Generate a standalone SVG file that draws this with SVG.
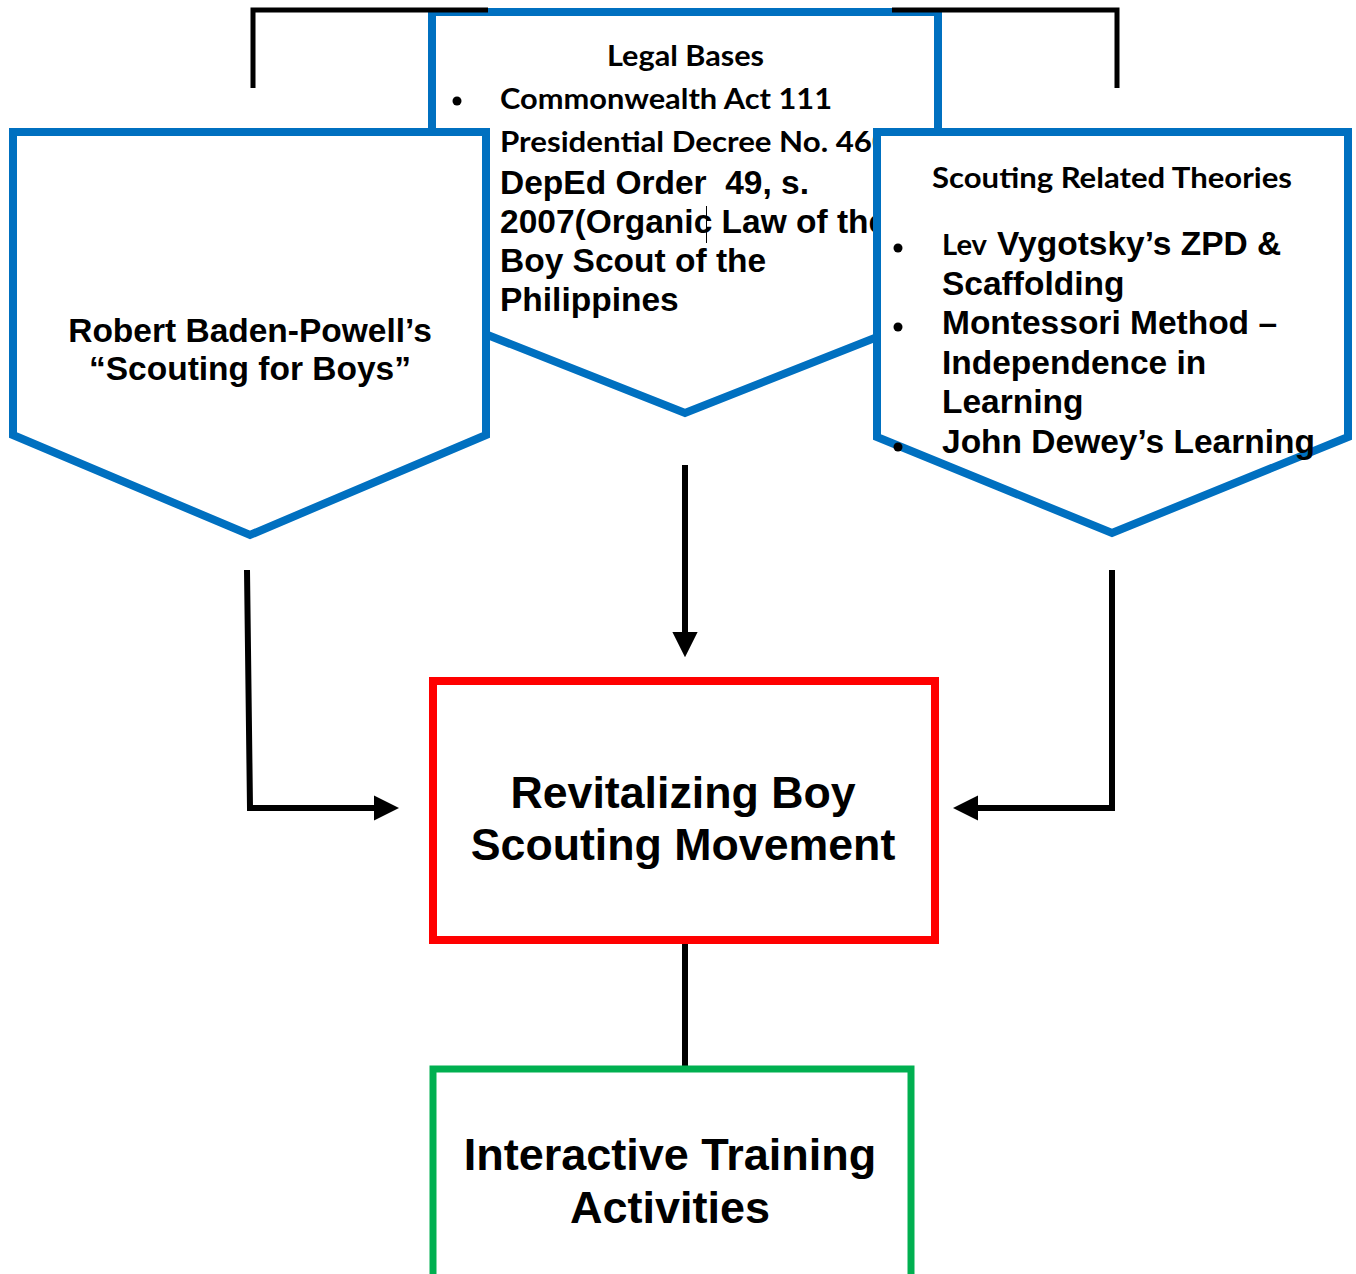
<svg xmlns="http://www.w3.org/2000/svg" width="1356" height="1274" viewBox="0 0 1356 1274">
<style>
.pent{fill:#fff;stroke:#0070C0;stroke-width:8;stroke-linejoin:miter}
.cal{font-family:Lato,"Open Sans",sans-serif;font-weight:bold;font-size:29px;fill:#000}
.ar{font-family:"Liberation Sans",Arial,sans-serif;font-weight:bold;fill:#000}
.conn{fill:none;stroke:#000;stroke-width:6}
.brk{fill:none;stroke:#000;stroke-width:5}
</style>
<defs>
<marker id="ah" markerWidth="4.2" markerHeight="4.2" refX="0" refY="2.1" orient="auto" markerUnits="strokeWidth">
<path d="M0,0 L4.2,2.1 L0,4.2 Z" fill="#000"/>
</marker>
</defs>
<rect width="1356" height="1274" fill="#fff"/>
<g id="legal-bases">
<polygon class="pent" points="432,12 938,12 938,313 685,413 432,313"/>
<text class="cal" x="607" y="66" textLength="157" lengthAdjust="spacingAndGlyphs">Legal Bases</text>
<circle cx="457" cy="101" r="4.5" fill="#000"/>
<text class="cal" x="500" y="109" textLength="332" lengthAdjust="spacingAndGlyphs">Commonwealth Act 111</text>
<text class="cal" x="500" y="152" textLength="390" lengthAdjust="spacingAndGlyphs">Presidential Decree No. 460</text>
<text class="ar" font-size="33.5" x="500" y="194" xml:space="preserve">DepEd Order  49, s.</text>
<text class="ar" font-size="33.5" x="500" y="233">2007(Organic Law of the</text>
<line x1="706.5" y1="206" x2="706.5" y2="243" stroke="#000" stroke-width="1"/>
<text class="ar" font-size="33.5" x="500" y="272">Boy Scout of the</text>
<text class="ar" font-size="33.5" x="500" y="311">Philippines</text>
</g>
<g id="connectors">
<polyline class="brk" points="253,88 253,10 488,10"/>
<polyline class="brk" points="892,10 1117,10 1117,88"/>
<line class="conn" x1="685" y1="465" x2="685" y2="632" marker-end="url(#ah)"/>
<polyline class="conn" points="247,570 250,808 374,808" marker-end="url(#ah)"/>
<polyline class="conn" points="1112,570 1112,808 978,808" marker-end="url(#ah)"/>
<line class="conn" x1="685" y1="942" x2="685" y2="1068"/>
</g>
<g id="baden-powell">
<polygon class="pent" points="13,132 486,132 486,435 250,535 13,435"/>
<text class="ar" font-size="33.5" x="250" y="342" text-anchor="middle">Robert Baden-Powell’s</text>
<text class="ar" font-size="33.5" x="250" y="380" text-anchor="middle">“Scouting for Boys”</text>
</g>
<g id="theories">
<polygon class="pent" points="877,132 1348,132 1348,437 1112,533 877,437"/>
<text class="cal" x="932" y="188" textLength="360" lengthAdjust="spacingAndGlyphs">Scouting Related Theories</text>
<circle cx="898" cy="248" r="4.5" fill="#000"/>
<circle cx="898" cy="327" r="4.5" fill="#000"/>
<circle cx="898" cy="447" r="4.5" fill="#000"/>
<text class="cal" x="942" y="255" textLength="45" lengthAdjust="spacingAndGlyphs">Lev</text>
<text class="ar" font-size="33.5" x="997" y="255">Vygotsky’s ZPD &amp;</text>
<text class="ar" font-size="33.5" x="942" y="295">Scaffolding</text>
<text class="ar" font-size="33.5" x="942" y="334">Montessori Method –</text>
<text class="ar" font-size="33.5" x="942" y="374">Independence in</text>
<text class="ar" font-size="33.5" x="942" y="413">Learning</text>
<text class="ar" font-size="33.5" x="942" y="453">John Dewey’s Learning</text>
</g>
<g id="revitalizing">
<rect x="433" y="681" width="502" height="259" fill="none" stroke="#FF0000" stroke-width="8"/>
<text class="ar" font-size="44.7" x="683" y="808" text-anchor="middle">Revitalizing Boy</text>
<text class="ar" font-size="44.7" x="683" y="860" text-anchor="middle">Scouting Movement</text>
</g>
<g id="training">
<rect x="433" y="1069" width="478" height="210" fill="none" stroke="#00B050" stroke-width="7"/>
<text class="ar" font-size="45" x="670" y="1170" text-anchor="middle">Interactive Training</text>
<text class="ar" font-size="45" x="670" y="1223" text-anchor="middle">Activities</text>
</g>
</svg>
